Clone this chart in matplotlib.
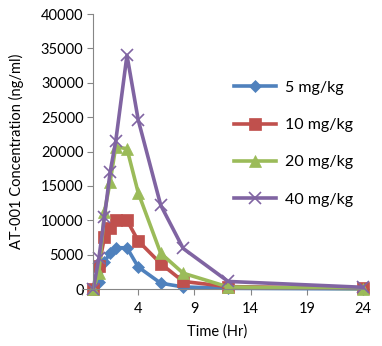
import matplotlib
matplotlib.use("Agg")
import matplotlib.pyplot as plt

plt.rcParams["font.family"] = ["Lato", "DejaVu Sans"]

# 采样时间 (Hr) 与各剂量组的浓度 (ng/ml)
time_hr = [0, 0.5, 1, 1.5, 2, 3, 4, 6, 8, 12, 24]
conc_5 = [0, 1000, 4000, 5200, 6000, 6000, 3200, 850, 300, 100, 20]
conc_10 = [0, 3300, 7600, 8900, 10000, 10000, 7000, 3700, 1100, 350, 100]
conc_20 = [0, 2400, 11200, 15600, 20700, 20400, 14000, 5200, 2300, 300, 50]
conc_40 = [0, 4500, 10500, 17000, 21500, 34000, 24600, 12200, 5900, 1100, 250]

labels = ["5 mg/kg", "10 mg/kg", "20 mg/kg", "40 mg/kg"]
colors = ["#4F81BD", "#C0504D", "#9BBB59", "#8064A2"]
markers = ["D", "s", "^", "x"]
x_ticks = [-1, 4, 9, 14, 19, 24]
x_ticklabels = ["", "4", "9", "14", "19", "24"]
y_ticks = list(range(0, 40001, 5000))

fig = plt.figure(figsize=(3.82, 3.46), dpi=100)
ax = fig.add_axes([0.2147, 0.1647, 0.9503 - 0.2147, 0.9595 - 0.1647])

series = [conc_5, conc_10, conc_20, conc_40]
for vals, lab, col, mk in zip(series, labels, colors, markers):
    ms = {"D": 6.5, "s": 8, "^": 8, "x": 9}[mk]
    ax.plot(time_hr, vals, color=col, lw=2.6, marker=mk, ms=ms,
            mew=1.2 if mk == "x" else 0.5, mec=col, label=lab, clip_on=False)

ax.set_xlim(-1, 24)
ax.set_ylim(0, 40000)
ax.set_xticks(x_ticks)
ax.set_xticklabels(x_ticklabels)
ax.set_yticks(y_ticks)

for s in ["top", "right"]:
    ax.spines[s].set_visible(False)
ax.spines["left"].set_position(("data", 0))
for s in ["left", "bottom"]:
    ax.spines[s].set_color("#868686")
    ax.spines[s].set_linewidth(0.8)
ax.tick_params(axis="both", colors="#868686", labelcolor="black", labelsize=10.5, length=4)
ax.tick_params(axis="x", pad=5)
ax.tick_params(axis="y", pad=3)

ax.set_xlabel("Time (Hr)", fontsize=10.5)
ax.set_ylabel("AT-001 Concentration (ng/ml)", fontsize=10.5)
ax.xaxis.set_label_coords(0.48, -0.13)
ax.yaxis.set_label_coords(-0.205, 0.5)

leg = ax.legend(loc="upper left", bbox_to_anchor=(0.49, 0.81), frameon=False,
                fontsize=11.5, handlelength=2.6, labelspacing=1.45, handletextpad=0.6)

fig.savefig("out.png", dpi=100)
